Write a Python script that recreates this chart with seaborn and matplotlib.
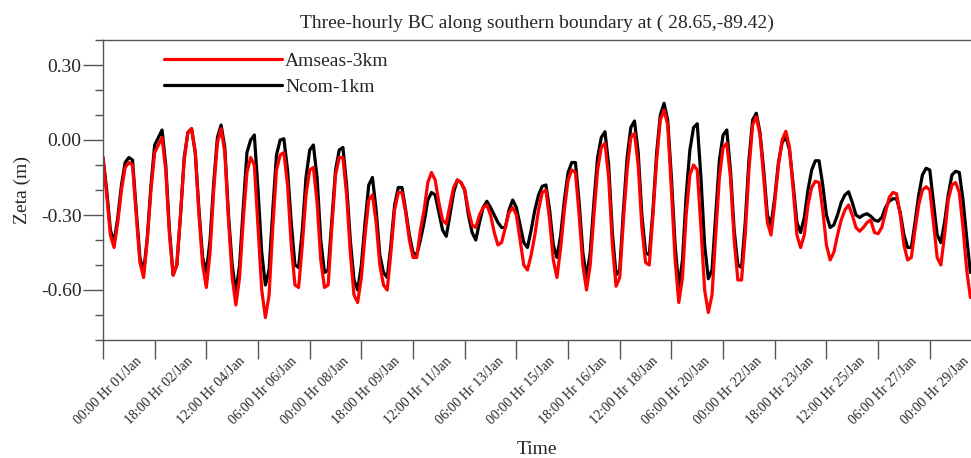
import numpy as np
import pandas as pd
import matplotlib
matplotlib.use('Agg')
import matplotlib.pyplot as plt
from matplotlib.ticker import MultipleLocator
from matplotlib.transforms import ScaledTranslation
import seaborn as sns

# three-hourly time axis (hours since 00:00 01/Jan)
hours = np.arange(0, 708, 3)

# zeta (m), one row per day
amseas = [
    -0.07, -0.22, -0.38, -0.43, -0.33, -0.20, -0.11, -0.09,
    -0.10, -0.30, -0.49, -0.55, -0.40, -0.20, -0.05, -0.02,
    0.01, -0.12, -0.38, -0.54, -0.50, -0.30, -0.08, 0.03,
    0.045, -0.05, -0.30, -0.50, -0.59, -0.45, -0.20, -0.01,
    0.045, -0.05, -0.32, -0.55, -0.66, -0.55, -0.32, -0.13,
    -0.07, -0.10, -0.35, -0.60, -0.71, -0.62, -0.35, -0.12,
    -0.06, -0.05, -0.18, -0.42, -0.58, -0.59, -0.42, -0.22,
    -0.12, -0.11, -0.25, -0.48, -0.59, -0.58, -0.35, -0.14,
    -0.07, -0.07, -0.22, -0.45, -0.62, -0.65, -0.55, -0.38,
    -0.24, -0.22, -0.33, -0.50, -0.58, -0.60, -0.45, -0.28,
    -0.21, -0.21, -0.29, -0.40, -0.47, -0.47, -0.36, -0.28,
    -0.17, -0.13, -0.16, -0.25, -0.32, -0.335, -0.26, -0.19,
    -0.16, -0.17, -0.20, -0.28, -0.34, -0.35, -0.30, -0.27,
    -0.26, -0.30, -0.37, -0.42, -0.41, -0.35, -0.29, -0.27,
    -0.30, -0.40, -0.50, -0.52, -0.46, -0.38, -0.28, -0.21,
    -0.20, -0.32, -0.48, -0.55, -0.43, -0.28, -0.16, -0.12,
    -0.13, -0.30, -0.50, -0.60, -0.50, -0.30, -0.12, -0.03,
    -0.013, -0.15, -0.42, -0.585, -0.55, -0.32, -0.12, 0.01,
    0.027, -0.10, -0.35, -0.49, -0.50, -0.30, -0.08, 0.08,
    0.12, 0.06, -0.20, -0.48, -0.65, -0.55, -0.30, -0.14,
    -0.10, -0.12, -0.35, -0.60, -0.69, -0.62, -0.38, -0.15,
    -0.03, -0.013, -0.15, -0.40, -0.56, -0.56, -0.38, -0.12,
    0.06, 0.093, 0.02, -0.15, -0.33, -0.38, -0.25, -0.10,
    0.00, 0.035, -0.03, -0.20, -0.38, -0.43, -0.38, -0.26,
    -0.19, -0.165, -0.17, -0.28, -0.42, -0.48, -0.45, -0.38,
    -0.32, -0.28, -0.26, -0.30, -0.35, -0.365, -0.35, -0.33,
    -0.32, -0.37, -0.375, -0.35, -0.29, -0.23, -0.21, -0.215,
    -0.30, -0.42, -0.48, -0.47, -0.36, -0.26, -0.20, -0.187,
    -0.20, -0.33, -0.47, -0.50, -0.38, -0.24, -0.18, -0.17,
    -0.21, -0.35, -0.52, -0.63,
]

ncom = [
    -0.07, -0.20, -0.36, -0.41, -0.31, -0.18, -0.09, -0.07,
    -0.08, -0.28, -0.47, -0.53, -0.39, -0.18, -0.02, 0.01,
    0.04, -0.10, -0.36, -0.54, -0.50, -0.30, -0.07, 0.03,
    0.045, -0.05, -0.28, -0.47, -0.53, -0.40, -0.17, 0.01,
    0.06, -0.03, -0.30, -0.50, -0.61, -0.50, -0.27, -0.05,
    0.00, 0.02, -0.20, -0.45, -0.58, -0.52, -0.28, -0.06,
    0.00, 0.005, -0.12, -0.33, -0.50, -0.51, -0.36, -0.15,
    -0.04, -0.02, -0.15, -0.40, -0.53, -0.52, -0.32, -0.12,
    -0.04, -0.03, -0.18, -0.40, -0.56, -0.60, -0.50, -0.33,
    -0.18, -0.15, -0.28, -0.46, -0.53, -0.55, -0.42, -0.26,
    -0.19, -0.19, -0.28, -0.38, -0.45, -0.46, -0.40, -0.33,
    -0.24, -0.21, -0.22, -0.29, -0.36, -0.385, -0.30, -0.21,
    -0.16, -0.17, -0.20, -0.30, -0.37, -0.40, -0.33, -0.27,
    -0.245, -0.27, -0.30, -0.33, -0.35, -0.35, -0.28, -0.24,
    -0.27, -0.34, -0.41, -0.43, -0.36, -0.28, -0.22, -0.185,
    -0.18, -0.28, -0.42, -0.47, -0.38, -0.24, -0.13, -0.09,
    -0.09, -0.25, -0.45, -0.55, -0.45, -0.25, -0.07, 0.01,
    0.033, -0.10, -0.37, -0.54, -0.52, -0.28, -0.07, 0.05,
    0.076, -0.05, -0.30, -0.45, -0.46, -0.28, -0.05, 0.10,
    0.147, 0.08, -0.15, -0.42, -0.59, -0.48, -0.22, -0.04,
    0.05, 0.065, -0.15, -0.42, -0.555, -0.52, -0.30, -0.08,
    0.02, 0.04, -0.12, -0.36, -0.50, -0.51, -0.33, -0.08,
    0.08, 0.107, 0.03, -0.12, -0.30, -0.34, -0.23, -0.09,
    -0.01, 0.013, -0.04, -0.18, -0.33, -0.37, -0.31, -0.20,
    -0.12, -0.083, -0.083, -0.18, -0.30, -0.35, -0.34, -0.30,
    -0.25, -0.22, -0.207, -0.25, -0.30, -0.31, -0.30, -0.295,
    -0.305, -0.32, -0.325, -0.31, -0.27, -0.245, -0.235, -0.235,
    -0.29, -0.38, -0.43, -0.43, -0.33, -0.22, -0.14, -0.113,
    -0.12, -0.25, -0.38, -0.41, -0.33, -0.22, -0.14, -0.125,
    -0.13, -0.24, -0.39, -0.53,
]

tick_hours = np.arange(0, 673, 42)
tick_labels = [
    '00:00 Hr 01/Jan', '18:00 Hr 02/Jan', '12:00 Hr 04/Jan', '06:00 Hr 06/Jan',
    '00:00 Hr 08/Jan', '18:00 Hr 09/Jan', '12:00 Hr 11/Jan', '06:00 Hr 13/Jan',
    '00:00 Hr 15/Jan', '18:00 Hr 16/Jan', '12:00 Hr 18/Jan', '06:00 Hr 20/Jan',
    '00:00 Hr 22/Jan', '18:00 Hr 23/Jan', '12:00 Hr 25/Jan', '06:00 Hr 27/Jan',
    '00:00 Hr 29/Jan',
]
ytick_vals = [-0.60, -0.30, 0.00, 0.30]

df = pd.DataFrame({'hour': hours, 'Amseas-3km': amseas, 'Ncom-1km': ncom})

sns.set_style('ticks')
plt.rcParams['font.family'] = ['Liberation Serif', 'DejaVu Serif']

fig = plt.figure(figsize=(9.71, 4.58), dpi=100)
ax = fig.add_axes([103 / 971, 118 / 458, 868 / 971, 300 / 458])

# black first so the red line sits on top
sns.lineplot(x='hour', y='Ncom-1km', data=df, color='black', lw=2.3, label='Ncom-1km', ax=ax)
sns.lineplot(x='hour', y='Amseas-3km', data=df, color='red', lw=2.3, label='Amseas-3km', ax=ax)

ax.set_xlim(0, 705.5)
ax.set_ylim(-0.8, 0.4)

ax.set_yticks(ytick_vals)
ax.set_yticklabels(['%.2f' % v for v in ytick_vals])
ax.yaxis.set_minor_locator(MultipleLocator(0.1))
ax.set_xticks(tick_hours)
ax.set_xticklabels(tick_labels, rotation=45, ha='center')

spine_col = '#555555'
for s in ax.spines.values():
    s.set_color(spine_col)
    s.set_linewidth(1.0)
ax.spines['right'].set_visible(False)

# tick lengths in points (px * 0.72)
ax.tick_params(axis='y', which='major', direction='out', length=14.4, width=1.0,
               color=spine_col, labelsize=14, pad=1)
ax.tick_params(axis='y', which='minor', direction='out', length=6, width=1.0, color=spine_col)
ax.tick_params(axis='x', which='major', direction='out', length=13.7, width=1.0,
               color=spine_col, labelsize=10, pad=-3)
for lbl in ax.get_xticklabels():
    lbl.set_transform(lbl.get_transform() + ScaledTranslation(5 / 100, 0, fig.dpi_scale_trans))

ax.set_title('Three-hourly BC along southern boundary at ( 28.65,-89.42)', fontsize=14, pad=9)
ax.set_xlabel('Time', fontsize=14)
ax.set_ylabel('Zeta (m)', fontsize=14)
ax.xaxis.set_label_coords(0.5, -0.335)
ax.yaxis.set_label_coords(-0.083, 0.5)

handles, labels = ax.get_legend_handles_labels()
ax.legend(handles[::-1], labels[::-1], loc='upper left', bbox_to_anchor=(0.07, 0.96),
          frameon=False, fontsize=14, handlelength=6.1, handletextpad=0.15,
          labelspacing=0.45, borderpad=0, borderaxespad=0)

fig.savefig('out.png', dpi=100)
